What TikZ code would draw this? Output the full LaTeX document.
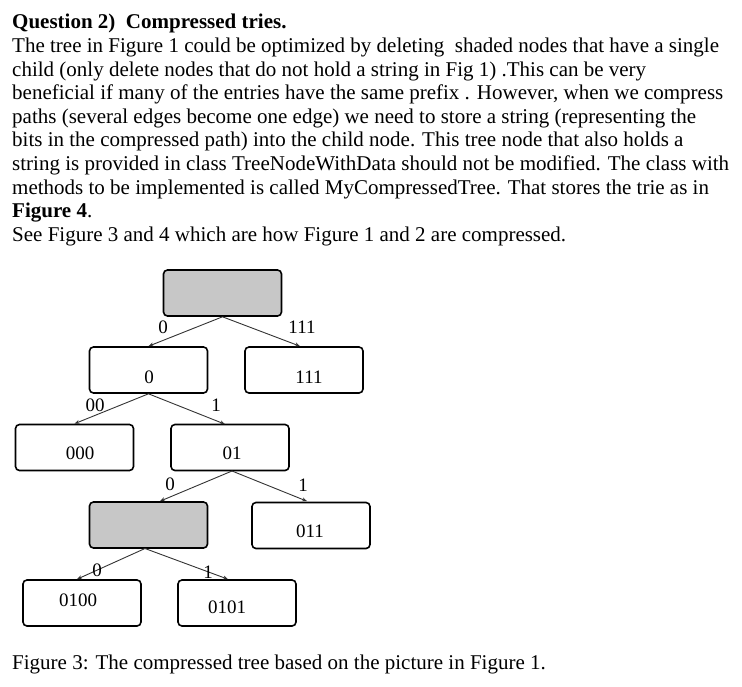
\documentclass[tikz,border=0pt]{standalone}
\usepackage{fontspec}
\setmainfont{Liberation Serif}
\usetikzlibrary{arrows.meta}
\begin{document}
\begin{tikzpicture}[x=1pt,y=-1pt,
 tn/.style={draw,line width=1.6pt,rounded corners=4pt,minimum width=118pt,minimum height=46pt,inner sep=0pt},
 gr/.style={tn,fill=black!22},
 ed/.style={draw=black!80,line width=0.9pt,-{Stealth[length=5pt,width=4pt]}},
 el/.style={font=\fontsize{19}{19}\selectfont,inner sep=0pt},
 tx/.style={anchor=base west,inner sep=0pt,font=\fontsize{21}{21}\selectfont}]
\useasboundingbox (0,0) rectangle (742,686);
\node[tx,font=\bfseries\fontsize{21}{21}\selectfont] (t0) at (12,28) {Question 2)\ \ Compressed tries.};
\node[tx] (t1) at (12,52) {The tree in Figure 1 could be optimized by deleting\ \ shaded nodes that have a single};
\node[tx] (t2) at (12,76) {child (only delete nodes that do not hold a string in Fig 1) .This can be very};
\node[tx] (t3) at (12,99) {beneficial if many of the entries have the same prefix . However, when we compress};
\node[tx] (t4) at (12,123) {paths (several edges become one edge) we need to store a string (representing the};
\node[tx] (t5) at (12,146) {bits in the compressed path) into the child node. This tree node that also holds a};
\node[tx] (t6) at (12,170) {string is provided in class TreeNodeWithData should not be modified. The class with};
\node[tx] (t7) at (12,194) {methods to be implemented is called MyCompressedTree. That stores the trie as in};
\node[tx] (t8) at (12,217) {\textbf{Figure 4}.};
\node[tx] (t9) at (12,241) {See Figure 3 and 4 which are how Figure 1 and 2 are compressed.};
\node[tx] (cap) at (12,669) {Figure 3: The compressed tree based on the picture in Figure 1.};

\node[gr] (r) at (222.5,293) {};
\node[tn] (a) at (148.5,370) {}; \node[el] (la) at (149,377) {0};
\node[tn] (b) at (304,370) {}; \node[el] (lb) at (309,377) {111};
\node[tn] (c) at (74.5,447.5) {}; \node[el] (lc) at (80,453) {000};
\node[tn] (d) at (230,447.5) {}; \node[el] (ld) at (232,453) {01};
\node[gr] (g) at (148.5,525) {};
\node[tn] (e) at (311,525.5) {}; \node[el] (le) at (310,531) {011};
\node[tn] (f) at (82,603) {}; \node[el] (lf) at (78,600) {0100};
\node[tn] (h) at (237,603) {}; \node[el] (lh) at (227,607) {0101};

\draw[ed] (r.south) -- (a.north);
\draw[ed] (r.south) -- (b.north west -| 300,0);
\draw[ed] (a.south) -- (c.north);
\draw[ed] (a.south) -- (225,424.2);
\draw[ed] (232,471) -- (160,501.2);
\draw[ed] (232,471) -- (307,501.2);
\draw[ed] (145,548.5) -- (77,579.2);
\draw[ed] (145,548.5) -- (228,579.2);
\node[el] (e1) at (163,327) {0};
\node[el] (e2) at (302,327) {111};
\node[el] (e3) at (95,405) {00};
\node[el] (e4) at (216,405) {1};
\node[el] (e5) at (170,484) {0};
\node[el] (e6) at (303,485) {1};
\node[el] (e7) at (97,570) {0};
\node[el] (e8) at (208,572) {1};
\end{tikzpicture}
\end{document}
